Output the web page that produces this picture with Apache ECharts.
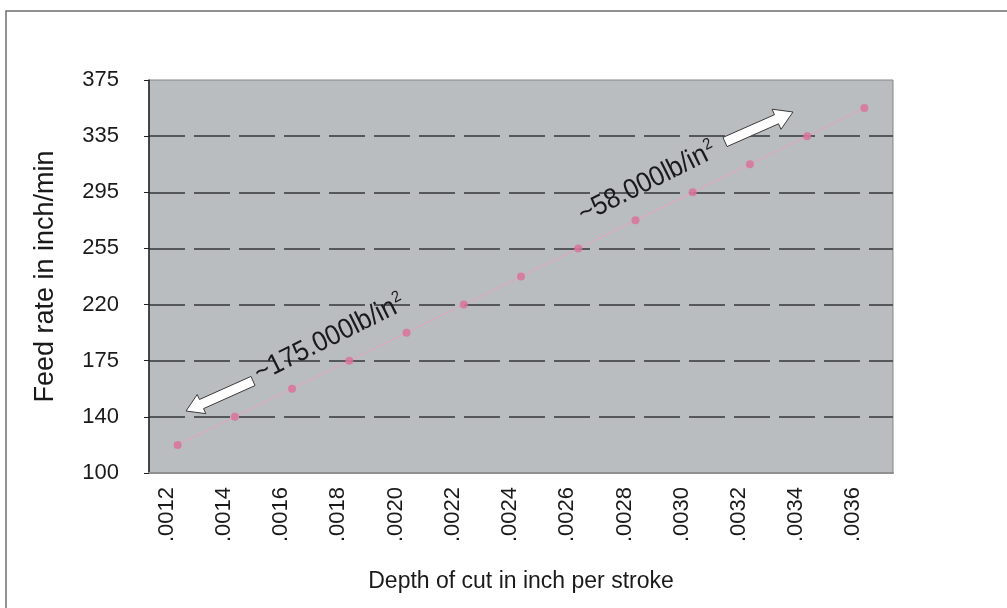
<!DOCTYPE html>
<html>
<head>
<meta charset="utf-8">
<script src="https://cdn.jsdelivr.net/npm/echarts@6/dist/echarts.min.js"></script>
<style>
  html, body { margin: 0; padding: 0; background: #fff; }
  #chart { width: 1007px; height: 608px; }
</style>
</head>
<body>
<div id="chart"></div>
<script>
// depth of cut (inch per stroke)
const depthLabels = ['.0012', '.0014', '.0016', '.0018', '.0020', '.0022', '.0024',
  '.0026', '.0028', '.0030', '.0032', '.0034', '.0036']
// feed rate (inch/min)
const feedRate = [120, 140, 157.5, 175, 197.5, 220, 237.5, 255, 275, 295, 315, 335, 355]
// the y ticks are evenly spaced although the values are not
const yTicks = [100, 140, 175, 220, 255, 295, 335, 375]

// place a feed rate between the evenly spaced ticks
const tickPos = v => {
  for (let i = 0; i < yTicks.length - 1; i++) {
    if (v <= yTicks[i + 1]) return i + (v - yTicks[i]) / (yTicks[i + 1] - yTicks[i])
  }
  return yTicks.length - 1
}

const chart = echarts.init(document.getElementById('chart'))

const font = "Arial, 'Liberation Sans', sans-serif"

// arrow outline from tail to tip
const arrow = (tail, tip, shaftW, headW, headLen) => {
  const dx = tip[0] - tail[0], dy = tip[1] - tail[1]
  const len = Math.sqrt(dx * dx + dy * dy)
  const ux = dx / len, uy = dy / len
  const nx = -uy, ny = ux
  const bx = tip[0] - ux * headLen, by = tip[1] - uy * headLen
  const p = (x, y, s) => [x + nx * s, y + ny * s]
  return [
    p(tail[0], tail[1], shaftW / 2), p(bx, by, shaftW / 2), p(bx, by, headW / 2),
    tip, p(bx, by, -headW / 2), p(bx, by, -shaftW / 2), p(tail[0], tail[1], -shaftW / 2)
  ]
}

const noteText = (x, y, main) => ({
  type: 'text',
  x: x,
  y: y,
  rotation: 26.5 * Math.PI / 180,
  scaleX: 0.92,
  z: 100,
  style: {
    text: '{a|' + main + '}{b|2}',
    align: 'left',
    verticalAlign: 'middle',
    rich: {
      a: { fontSize: 28, fontFamily: font, fill: '#1a1a1a' },
      b: { fontSize: 16, fontFamily: font, fill: '#1a1a1a', padding: [0, 0, 14, 1] }
    }
  }
})

const option = {
  animation: false,
  backgroundColor: '#fff',
  grid: {
    left: 149,
    right: 114,
    top: 80,
    bottom: 135,
    show: true,
    backgroundColor: '#babdc0',
    borderColor: '#848688',
    borderWidth: 1
  },
  xAxis: {
    type: 'category',
    data: depthLabels,
    boundaryGap: true,
    name: 'Depth of cut in inch per stroke',
    nameLocation: 'middle',
    nameGap: 97,
    nameTextStyle: { fontSize: 23, fontFamily: font, color: '#1a1a1a' },
    axisLine: { lineStyle: { color: '#8d8f91', width: 2 } },
    axisTick: { show: false },
    axisLabel: {
      rotate: 90,
      margin: 14,
      verticalAlign: 'bottom',
      fontSize: 22,
      fontFamily: font,
      color: '#1a1a1a'
    },
    splitLine: { show: false }
  },
  yAxis: {
    type: 'value',
    min: 0,
    max: yTicks.length - 1,
    interval: 1,
    name: 'Feed rate in inch/min',
    nameLocation: 'middle',
    nameGap: 90,
    nameTextStyle: { fontSize: 27, fontFamily: font, color: '#1a1a1a' },
    axisLine: { show: true, lineStyle: { color: '#222', width: 1.5 } },
    axisTick: { show: true, length: 5, lineStyle: { color: '#222' } },
    axisLabel: {
      margin: 30,
      fontSize: 22,
      fontFamily: font,
      color: '#1a1a1a',
      formatter: v => yTicks[Math.round(v)]
    },
    splitLine: {
      show: true,
      lineStyle: {
        color: ['transparent', '#55575a', '#55575a', '#55575a', '#55575a', '#55575a', '#55575a', 'transparent'],
        width: 2,
        type: [36, 9]
      }
    }
  },
  series: [
    {
      type: 'line',
      data: feedRate.map(tickPos),
      symbol: 'circle',
      symbolSize: 8,
      lineStyle: { color: '#e4a4ba', width: 1 },
      itemStyle: { color: '#d8739a', opacity: 0.85 },
      z: 3
    }
  ],
  graphic: [
    {
      type: 'rect',
      shape: { x: 6, y: 11, width: 1100, height: 700 },
      style: { fill: 'none', stroke: '#6e6e6e', lineWidth: 1.5 },
      silent: true
    },
    {
      type: 'polygon',
      shape: { points: arrow([253, 381], [186, 411], 10, 21, 17) },
      style: { fill: '#fff', stroke: '#3c3c3c', lineWidth: 1 },
      z: 100
    },
    {
      type: 'polygon',
      shape: { points: arrow([725, 142], [793, 112], 10, 22, 18) },
      style: { fill: '#fff', stroke: '#3c3c3c', lineWidth: 1 },
      z: 100
    },
    noteText(256, 375, '~175.000lb/in'),
    noteText(580, 216, '~58.000lb/in')
  ]
}

chart.setOption(option)

window.addEventListener('resize', () => {
  chart && chart.resize()
})
</script>
</body>
</html>
